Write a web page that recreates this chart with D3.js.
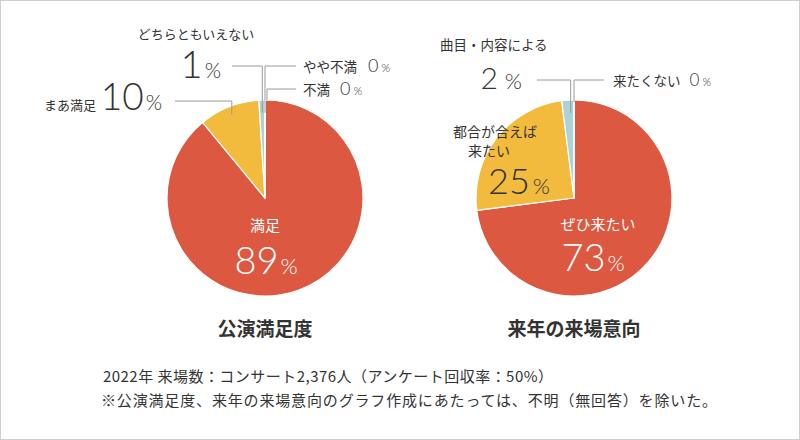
<!DOCTYPE html>
<html lang="ja">
<head>
<meta charset="utf-8">
<script src="https://cdn.jsdelivr.net/npm/d3@7"></script>
<style>
  html, body { margin: 0; padding: 0; background: #fff; }
  svg { display: block; }
  .jp { font-family: "Noto Sans CJK JP", "Noto Sans", sans-serif; }
  .num { font-family: "Lato", "Open Sans", sans-serif; font-weight: 300; }
</style>
</head>
<body>
<svg id="chart" width="800" height="440"></svg>
<script>
// ---- data ----
const satisfactionCategories = ["満足", "まあ満足", "どちらともいえない", "やや不満", "不満"];
const satisfactionValues = [89, 10, 1, 0, 0];
const intentCategories = ["ぜひ来たい", "都合が合えば来たい", "曲目・内容による", "来たくない"];
const intentValues = [73, 25, 2, 0];
const chartTitles = ["公演満足度", "来年の来場意向"];
const footnotes = [
  "2022年 来場数：コンサート2,376人（アンケート回収率：50%）",
  "※公演満足度、来年の来場意向のグラフ作成にあたっては、不明（無回答）を除いた。"
];

// ---- styles ----
const satisfactionColors = ["#dc5841", "#f2bb3e", "#acd2d9", "#acd2d9", "#acd2d9"];
const intentColors = ["#dc5841", "#f2bb3e", "#acd2d9", "#acd2d9"];
const textColor = "#333";
const lineColor = "#9a9a9a";

const svg = d3.select("#chart");
svg.append("rect").attr("x", 0.5).attr("y", 0.5).attr("width", 799).attr("height", 439)
  .attr("fill", "#fff").attr("stroke", "#cfcfcf").attr("stroke-width", 1);

const R = 98;
const pie = d3.pie().sort(null).value(d => d);
const arc = d3.arc().innerRadius(0).outerRadius(R);

function pct(v) { return Math.round(v); }

// value label: number big + small %
function valueText(g, x, y, value, numSize, pctSize, anchor, fill, gap) {
  const t = g.append("text").attr("class", "num").attr("x", x).attr("y", y)
    .attr("text-anchor", anchor).attr("fill", fill || textColor);
  t.append("tspan").attr("font-size", numSize).text(pct(value));
  t.append("tspan").attr("font-size", pctSize).attr("dx", gap == null ? 3 : gap).text("%");
  return t;
}
function jpText(g, x, y, str, size, anchor, fill, weight) {
  return g.append("text").attr("class", "jp").attr("x", x).attr("y", y)
    .attr("text-anchor", anchor || "start").attr("font-size", size)
    .attr("fill", fill || textColor).attr("font-weight", weight || 400).text(str);
}
function pointAt(a, r) { return [Math.sin(a) * r, -Math.cos(a) * r]; }

function drawPie(cx, cy, values, colors, title) {
  const g = svg.append("g").attr("transform", `translate(${cx},${cy})`);
  const arcs = pie(values);
  g.selectAll("path").data(arcs).join("path")
    .attr("d", arc).attr("fill", (d, i) => colors[i])
    .attr("stroke", "#fff").attr("stroke-width", 1.2).attr("stroke-linejoin", "round");
  jpText(g, 0, 138, title, 19, "middle", textColor, 700);
  return { g, arcs };
}

function leader(g, arcD, rFrac, dxOff, lineY, endX) {
  const mid = (arcD.startAngle + arcD.endAngle) / 2;
  const [ax, ay] = pointAt(mid, R * rFrac);
  const x = ax + dxOff;
  g.append("path")
    .attr("d", `M${endX},${lineY}H${x}V${ay}`)
    .attr("fill", "none").attr("stroke", lineColor).attr("stroke-width", 1);
}

// ---- left pie: 公演満足度 ----
{
  const cx = 265, cy = 198;
  const { g, arcs } = drawPie(cx, cy, satisfactionValues, satisfactionColors, chartTitles[0]);
  // leader lines
  leader(g, arcs[1], 0.92, 0, 101 - cy, 175 - cx);
  leader(g, arcs[2], 0.87, 0, 66 - cy, 232 - cx);
  leader(g, arcs[3], 0.87, 0, 66 - cy, 296 - cx);
  leader(g, arcs[4], 1.0, 2, 89 - cy, 296 - cx);

  // inside label
  jpText(g, 0, 231 - cy, satisfactionCategories[0], 15, "middle", "#fff");
  valueText(g, 1, 274 - cy, satisfactionValues[0], 38, 22, "middle", "#fff", 2);

  // まあ満足
  jpText(g, 44 - cx, 110 - cy, satisfactionCategories[1], 13, "start");
  valueText(g, 162 - cx, 110 - cy, satisfactionValues[1], 37, 21, "end", textColor, 2);
  // どちらともいえない
  jpText(g, 196 - cx, 39 - cy, satisfactionCategories[2], 13, "middle");
  valueText(g, 221 - cx, 78 - cy, satisfactionValues[2], 38, 21, "end", textColor, 2);
  // やや不満
  jpText(g, 303 - cx, 72 - cy, satisfactionCategories[3], 13.5, "start");
  valueText(g, 390 - cx, 72 - cy, satisfactionValues[3], 18, 11, "end", textColor, 3);
  // 不満
  jpText(g, 303 - cx, 95 - cy, satisfactionCategories[4], 13.5, "start");
  valueText(g, 362 - cx, 95 - cy, satisfactionValues[4], 18, 11, "end", textColor, 3);
}

// ---- right pie: 来年の来場意向 ----
{
  const cx = 574, cy = 198;
  const { g, arcs } = drawPie(cx, cy, intentValues, intentColors, chartTitles[1]);
  leader(g, arcs[2], 0.87, 2, 80 - cy, 537 - cx);
  leader(g, arcs[3], 0.98, 0, 80 - cy, 604 - cx);

  // inside label
  jpText(g, 598 - cx, 230 - cy, intentCategories[0], 15, "middle", "#fff");
  valueText(g, 593 - cx, 271 - cy, intentValues[0], 38, 22, "middle", "#fff", 2);

  // 都合が合えば来たい
  jpText(g, 495 - cx, 137 - cy, intentCategories[1].slice(0, 6), 14, "middle");
  jpText(g, 489 - cx, 156 - cy, intentCategories[1].slice(6), 14, "middle");
  valueText(g, 550 - cx, 194 - cy, intentValues[1], 36, 22, "end", textColor, 3);

  // 曲目・内容による
  jpText(g, 440 - cx, 50 - cy, intentCategories[2], 13.5, "start");
  valueText(g, 522 - cx, 89 - cy, intentValues[2], 30, 22, "end", textColor, 7);

  // 来たくない
  jpText(g, 613 - cx, 86 - cy, intentCategories[3], 13.5, "start");
  valueText(g, 711 - cx, 86 - cy, intentValues[3], 17, 11, "end", textColor, 3);
}

// ---- footnotes ----
svg.append("text").attr("class", "jp").attr("x", 103).attr("y", 382)
  .attr("font-size", 15).attr("fill", textColor)
  .attr("textLength", 450).attr("lengthAdjust", "spacing").text(footnotes[0]);
svg.append("text").attr("class", "jp").attr("x", 101).attr("y", 406)
  .attr("font-size", 15).attr("fill", textColor)
  .attr("textLength", 616).attr("lengthAdjust", "spacing").text(footnotes[1]);
</script>
</body>
</html>
